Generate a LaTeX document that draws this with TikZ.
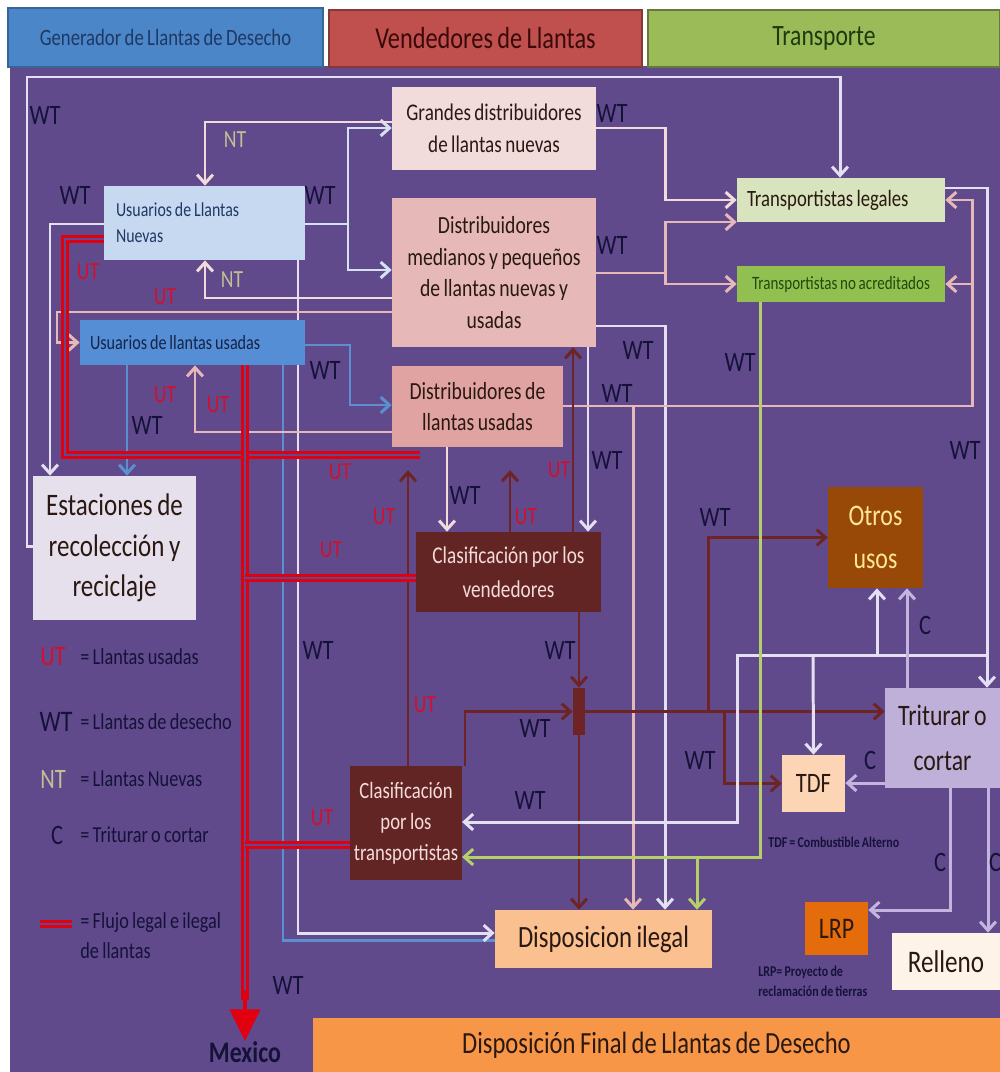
\documentclass[tikz,border=0pt]{standalone}
\usepackage{fontspec}
\setmainfont{Carlito}[FakeStretch=0.8, WordSpace=0.8]
\usetikzlibrary{arrows.meta}
\usetikzlibrary{positioning}
\usetikzlibrary{backgrounds}

\definecolor{bgpurple}{HTML}{604A8B}
\definecolor{hdrblue}{HTML}{4A86C8}
\definecolor{hdrred}{HTML}{C0504D}
\definecolor{hdrgreen}{HTML}{9BBB59}
\definecolor{hdrbluetxt}{HTML}{1F3864}
\definecolor{hdrredtxt}{HTML}{3A0A0A}
\definecolor{hdrgreentxt}{HTML}{1E3A0E}
\definecolor{boxtxt}{HTML}{2A1812}
\definecolor{txtnavy}{HTML}{15123A}
\definecolor{utred}{HTML}{D0102E}
\definecolor{ntgrey}{HTML}{C4BD97}
\definecolor{gdistfill}{HTML}{F2DCDB}
\definecolor{dmedfill}{HTML}{E6B9B8}
\definecolor{dusafill}{HTML}{E0A3A1}
\definecolor{unuevfill}{HTML}{C6D9F1}
\definecolor{uusafill}{HTML}{558ED5}
\definecolor{uusatxt}{HTML}{14244A}
\definecolor{estacfill}{HTML}{E6E0EC}
\definecolor{tlegfill}{HTML}{D7E4BD}
\definecolor{tnoafill}{HTML}{92C050}
\definecolor{tnoatxt}{HTML}{1E4A0E}
\definecolor{clasfill}{HTML}{632523}
\definecolor{clastxt}{HTML}{F2DCDB}
\definecolor{otrosfill}{HTML}{984807}
\definecolor{otrostxt}{HTML}{FFE699}
\definecolor{tritfill}{HTML}{BFB0DA}
\definecolor{tdffill}{HTML}{FCD5B5}
\definecolor{dilefill}{HTML}{FAC090}
\definecolor{lrpfill}{HTML}{E46C0A}
\definecolor{rellfill}{HTML}{FDF3E8}
\definecolor{fdisfill}{HTML}{F79646}
\definecolor{lavline}{HTML}{E4E0F2}
\definecolor{bluewline}{HTML}{D6E2F4}
\definecolor{pkline}{HTML}{E6B9B8}
\definecolor{ltpkline}{HTML}{F2DCDB}
\definecolor{blline}{HTML}{5A8FD0}
\definecolor{grline}{HTML}{B5D06A}
\definecolor{brline}{HTML}{6E2424}
\definecolor{cline}{HTML}{C3B5DE}
\definecolor{flowred}{HTML}{E00010}

\newcommand{\tsize}[2]{\fontsize{#1}{#2}\selectfont}

\tikzset{
  >={Straight Barb[length=5pt,width=9pt]},
  tbox/.style={inner sep=2pt, align=center, text=boxtxt},
  hdr/.style={line width=1.2pt, align=center},
  lbl/.style={inner sep=0pt, font=\tsize{16}{18}},
  wtlab/.style={lbl, text=txtnavy},
  utlab/.style={lbl, text=utred, font=\tsize{14}{16}},
  ntlab/.style={lbl, text=ntgrey, font=\tsize{14}{16}},
  clab/.style={lbl, text=txtnavy},
  legtxt/.style={anchor=west, inner sep=0pt, text=txtnavy, font=\tsize{13}{17}},
  note/.style={inner sep=0pt, text=txtnavy, font=\bfseries\tsize{8.5}{11}},
  link/.style={line width=1.7pt},
  lavw/.style={link, draw=lavline},
  bluew/.style={link, draw=bluewline},
  pk/.style={link, draw=pkline},
  ltpk/.style={link, draw=ltpkline},
  bl/.style={link, draw=blline},
  gr/.style={link, draw=grline},
  br/.style={link, draw=brline},
  cl/.style={link, draw=cline},
  flow/.style={draw=flowred, line width=1.3pt, double=bgpurple, double distance=1.5pt},
  mexarrow/.style={draw=flowred, line width=2.5pt, -{Triangle[length=18pt,width=17pt]}}
}

\begin{document}
\begin{tikzpicture}[x=0.02cm, y=-0.02cm]
        \useasboundingbox (0,0) rectangle (1000,1072);

        % Header
        \node[hdr, fill=hdrblue, draw=hdrblue!75!black, text=hdrbluetxt, minimum width=6.3cm, minimum height=1.18cm, font=\tsize{13.3}{16}] (gen) at (165.5,37.5) {Generador de Llantas de Desecho};
        \node[hdr, fill=hdrred, draw=hdrred!70!black, text=hdrredtxt, minimum width=6.26cm, minimum height=1.14cm, font=\tsize{17.3}{20}] (vend) at (485.5,38.5) {Vendedores de Llantas};
        \node[hdr, fill=hdrgreen, draw=hdrgreen!65!black, text=hdrgreentxt, minimum width=7.04cm, minimum height=1.14cm, font=\tsize{16.8}{20}] (trans) at (824,38.5) {Transporte};

        % Generators
        \node[tbox, fill=unuevfill, text=hdrbluetxt, align=flush left, text width=3.54cm, inner xsep=0.24cm, minimum height=1.48cm, font=\tsize{11.3}{14.7}] (unuev) at (204.5,223) {Usuarios de Llantas\\Nuevas};
        \node[tbox, fill=uusafill, text=uusatxt, align=flush left, text width=4.1cm, inner xsep=0.2cm, minimum height=0.9cm, font=\tsize{11.5}{14}] (uusa) at (192.5,342.5) {Usuarios de llantas usadas};
        \node[tbox, fill=estacfill, minimum width=3.26cm, minimum height=2.88cm, font=\tsize{17.8}{23}] (estac) at (114.5,548) {Estaciones de\\recolección y\\reciclaje};

        % Vendors
        \node[tbox, fill=gdistfill, minimum width=4.08cm, minimum height=1.66cm, font=\tsize{13.6}{18}] (gdist) at (494,128.5) {Grandes distribuidores\\de llantas nuevas};
        \node[tbox, fill=dmedfill, minimum width=4.08cm, minimum height=2.98cm, font=\tsize{14}{17.9}] (dmed) at (494,272.5) {Distribuidores\\medianos y pequeños\\de llantas nuevas y\\usadas};
        \node[tbox, fill=dusafill, minimum width=3.42cm, minimum height=1.62cm, font=\tsize{14}{17.6}] (dusa) at (477.5,406.5) {Distribuidores de\\llantas usadas};
        \node[tbox, fill=clasfill, text=clastxt, minimum width=3.7cm, minimum height=1.6cm, font=\tsize{13.7}{19.3}] (cven) at (508.5,572) {Clasificación por los\\vendedores};

        % Transport
        \node[tbox, fill=tlegfill, align=flush left, text width=3.76cm, inner xsep=0.2cm, minimum height=0.88cm, font=\tsize{13.3}{16}] (tleg) at (841,200) {Transportistas legales};
        \node[tbox, fill=tnoafill, text=tnoatxt, minimum width=4.16cm, minimum height=0.72cm, font=\tsize{10.7}{13}] (tnoa) at (841,284) {Transportistas no acreditados};
        \node[tbox, fill=clasfill, text=clastxt, minimum width=2.04cm, minimum height=2.28cm, font=\tsize{13.3}{17.6}] (ctra) at (406,823) {Clasificación\\por los\\transportistas};
        \node[fill=brline, minimum width=0.24cm, minimum height=0.94cm, inner sep=0pt] (junc) at (579,711.5) {};

        % Final disposal
        \node[tbox, fill=otrosfill, text=otrostxt, minimum width=1.9cm, minimum height=2.02cm, font=\tsize{17}{24.4}] (otros) at (875.5,537.5) {Otros\\usos};
        \node[tbox, fill=tritfill, minimum width=2.3cm, minimum height=2cm, font=\tsize{16.9}{25.5}] (trit) at (942.5,738) {Triturar o\\cortar};
        \node[tbox, fill=tdffill, minimum width=1.26cm, minimum height=1.14cm, font=\tsize{16}{19}] (tdf) at (813.5,783.5) {TDF};
        \node[tbox, fill=dilefill, minimum width=4.34cm, minimum height=1.16cm, font=\tsize{17.6}{20}] (dile) at (603.5,939) {Disposicion ilegal};
        \node[tbox, fill=lrpfill, minimum width=1.26cm, minimum height=1.06cm, font=\tsize{17}{20}] (lrp) at (836.5,928.5) {LRP};
        \node[tbox, fill=rellfill, minimum width=2.16cm, minimum height=1.14cm, font=\tsize{17.9}{20}] (rell) at (946,961.5) {Relleno};
        \node[tbox, fill=fdisfill, minimum width=13.74cm, minimum height=1.08cm, font=\tsize{17.5}{20}] (fdis) at (656.5,1045) {Disposición Final de Llantas de Desecho};
        \node[inner sep=0pt, text=txtnavy, font=\bfseries\tsize{17}{20}] (mex) at (245,1052) {Mexico};
        \node[note, anchor=west] (tdfnote) at (768,842) {TDF = Combustible Alterno};
        \node[note, anchor=north west, align=left] (lrpnote) at (758,966) {LRP= Proyecto de\\reclamación de tierras};

        % Flow labels
        \foreach \lx/\ly [count=\i] in {45/115, 75/195, 320/195, 612/113, 612/245, 325/370, 147/425, 638/350, 740/362, 617/393, 607/460, 465/495, 965/450, 715/517, 560/650, 318/650, 535/728, 700/760, 530/800, 288/985}
            \node[wtlab] (wt\i) at (\lx,\ly) {WT};
        \foreach \lx/\ly [count=\i] in {88/272, 165/297, 165/395, 218/405, 340/472, 384/517, 331/550, 526/517, 559/470, 425/705, 322/818}
            \node[utlab] (ut\i) at (\lx,\ly) {UT};
        \node[ntlab] (nt1) at (235,140) {NT};
        \node[ntlab] (nt2) at (232,280) {NT};
        \foreach \lx/\ly [count=\i] in {925/625, 870/760, 940/862, 995/862}
            \node[clab] (c\i) at (\lx,\ly) {C};

        % Legend
        \node[utlab, font=\tsize{16}{18}] (lgut) at (53,657) {UT};
        \node[legtxt] (lgutt) at (80,657) {= Llantas usadas};
        \node[wtlab, font=\tsize{17}{19}] (lgwt) at (56,722) {WT};
        \node[legtxt] (lgwtt) at (80,722) {= Llantas de desecho};
        \node[ntlab, font=\tsize{16}{18}] (lgnt) at (53,779) {NT};
        \node[legtxt] (lgntt) at (80,779) {= Llantas Nuevas};
        \node[clab] (lgc) at (57,835) {C};
        \node[legtxt] (lgct) at (80,835) {= Triturar o cortar};
        \node[legtxt, anchor=north west, align=left] (lgflt) at (80,912) {= Flujo legal e ilegal\\de llantas};

        \begin{scope}[on background layer]
            \fill[white] (0,0) rectangle (1000,1072);
            \fill[bgpurple] (10,66) rectangle (1000,1072);
            \draw[flow] (40,924) -- (72,924);

            % Waste tire flows from generators
            \draw[lavw, ->] (estac.west |- 0,546) -- (27,546) |- (840,77) -- (tleg.north -| 840,0);
            \draw[lavw, ->] (unuev.west |- 0,224) -| (estac.north -| 50,0);
            \draw[bluew, ->] (unuev.east |- 0,224) -- (348,224) |- (gdist.west |- 0,128);
            \draw[bluew, ->] (348,224) |- (dmed.west |- 0,270);
            \draw[bl] (uusa.south -| 283,0) |- (dile.west |- 0,940);
            \draw[lavw, ->] (unuev.south -| 298,0) |- (dile.west |- 0,933);
            \draw[bl, ->] (uusa.east |- 0,345) -- (350,345) |- (dusa.west |- 0,405);
            \draw[bl, ->] (uusa.south -| 127,0) -- (estac.north -| 127,0);

            % Vendor flows
            \draw[ltpk, ->] (gdist.west |- 0,122) -| (unuev.north -| 205,0);
            \draw[ltpk, ->] (dmed.west |- 0,298) -| (unuev.south -| 205,0);
            \draw[pk, ->] (dmed.west |- 0,312) -- (57,312) |- (uusa.west);
            \draw[pk, ->] (dusa.west |- 0,432) -| (uusa.south -| 195,0);
            \draw[ltpk, ->] (gdist.east |- 0,128) -| (665,200) -- (tleg.west |- 0,200);
            \draw[pk, ->] (dmed.east |- 0,273) -- (665,273) |- (tleg.west |- 0,222);
            \draw[pk, ->] (665,273) |- (tnoa.west);
            \draw[lavw, ->] (dmed.east |- 0,326) -| (dile.north -| 665,0);
            \draw[lavw, ->] (dmed.south -| 588,0) -- (cven.north -| 588,0);
            \draw[ltpk, ->] (dusa.south -| 447,0) -- (cven.north -| 447,0);
            \draw[pk, ->] (dusa.east |- 0,406) -| (972,200) -- (tleg.east |- 0,200);
            \draw[pk, ->] (972,284) -- (tnoa.east);
            \draw[pk, ->] (633,406) -- (dile.north -| 633,0);

            % Sorting flows
            \draw[br, ->, shorten >=13pt] (ctra.north -| 408,0) -- (dusa.south -| 408,0);
            \draw[br, ->, shorten >=13pt] (cven.north -| 510,0) -- (dusa.south -| 510,0);
            \draw[br, ->] (cven.north -| 573,0) -- (dmed.south -| 573,0);
            \draw[br, ->] (cven.south -| 579,0) -- (junc.north);
            \draw[br, ->] (ctra.north -| 465,0) |- (junc.west);
            \draw[br, ->] (junc.east) -- (trit.west |- junc.east);
            \draw[br, ->] (708,711.5) |- (otros.west);
            \draw[br, ->] (724,711.5) |- (tdf.west);
            \draw[br, ->] (junc.south) -- (dile.north -| junc.south);

            % Transport flows
            \draw[lavw, ->] (tleg.east |- 0,188) -| (trit.north -| 987,0);
            \draw[lavw, ->] (987,655) -| (737,822) -- (ctra.east |- 0,822);
            \draw[lavw, ->] (877,655) -- (otros.south -| 877,0);
            \draw[lavw, ->] (813,655) -- (tdf.north);
            \draw[gr, ->] (tnoa.south -| 760,0) |- (ctra.east |- 0,857);
            \draw[gr, ->] (697,857) -- (dile.north -| 697,0);

            % Shredding
            \draw[cl, ->] (trit.north -| 907,0) -- (otros.south -| 907,0);
            \draw[cl, ->] (trit.west |- 0,783) -- (tdf.east |- 0,783);
            \draw[cl, ->] (trit.south -| 950,0) |- (lrp.east |- 0,910);
            \draw[cl, ->] (trit.south -| 988,0) -- (rell.north -| 988,0);

            % Legal and illegal flow
            \draw[flow] (unuev.west |- 0,239) -- (65,239) -- (65,455) -- (420,455);
            \draw[flow] (uusa.south -| 245,0) -- (245,1000);
            \draw[flow] (245,578) -- (cven.west |- 0,578);
            \draw[flow] (245,845) -- (ctra.west |- 0,845);
            \draw[mexarrow] (245,990) -- (mex.north);
        \end{scope}
    \end{tikzpicture}
\end{document}
